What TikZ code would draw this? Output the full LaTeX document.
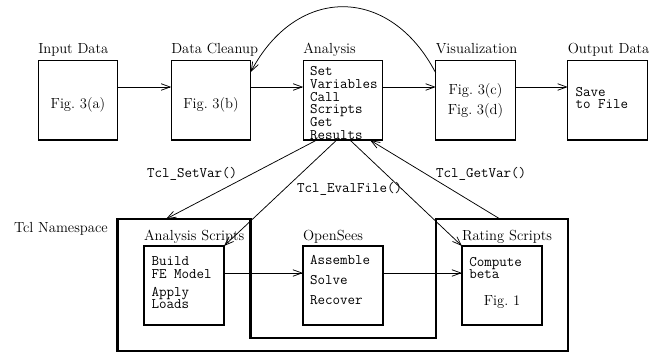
\documentclass[tikz,border=0pt]{standalone}
\usetikzlibrary{arrows.meta,calc}
\begin{document}
\begin{tikzpicture}[x=1pt,y=-1pt,
  every node/.style={font=\fontsize{14.6}{17}\selectfont, inner sep=0pt, outer sep=0pt},
  box/.style={draw, line width=1.2pt, minimum width=79.5pt, minimum height=79.5pt},
  ibox/.style={draw, line width=1.2pt, minimum width=80pt, minimum height=79pt},
  lbl/.style={anchor=base west},
  tt/.style={font=\fontsize{14.6}{12.8}\selectfont\ttfamily},
  ttb/.style={font=\fontsize{14.6}{12.5}\selectfont\ttfamily, anchor=north west, align=left},
  arr/.style={line width=0.75pt, -{Straight Barb[length=9pt,width=6.5pt]}},
  thickln/.style={line width=2.6pt, line join=miter}
]
\useasboundingbox (0,0) rectangle (665,353);

% top row
\node[box] (in) at (78,100.3) {};
\node[lbl] (inL) at ([yshift=7.4pt]in.north west) {Input Data};
\node[anchor=base] (inT) at (78,109) {Fig.~3(a)};

\node[box] (cl) at (211,100.3) {};
\node[lbl] (clL) at ([yshift=7.4pt]cl.north west) {Data Cleanup};
\node[anchor=base] (clT) at (211,109) {Fig.~3(b)};

\node[box] (ana) at (343,100.3) {};
\node[lbl] (anaL) at ([yshift=7.4pt]ana.north west) {Analysis};
\node[tt, anchor=north west, align=left] (anaT) at (310,66.5) {Set\\Variables\\Call\\Scripts\\Get\\Results};

\node[box] (vis) at (475.5,100.3) {};
\node[lbl] (visL) at ([yshift=7.4pt]vis.north west) {Visualization};
\node[anchor=base] (visT1) at (475.5,95) {Fig.~3(c)};
\node[anchor=base] (visT2) at (475.5,114) {Fig.~3(d)};

\node[box] (out) at (607.5,100.3) {};
\node[lbl] (outL) at ([yshift=7.4pt]out.north west) {Output Data};
\node[ttb] (outT) at (575.5,87) {Save\\to File};

% namespace outline
\coordinate (p1) at (117.5,219);
\coordinate (p2) at (250.5,219);
\coordinate (p3) at (250.5,338);
\coordinate (p4) at (436,338);
\coordinate (p5) at (436,219);
\coordinate (p6) at (568,219);
\coordinate (p7) at (568,351);
\coordinate (p8) at (117.5,351);
\draw[thickln] (p1) -- (p2) -- (p3) -- (p4) -- (p5) -- (p6) -- (p7) -- (p8) -- cycle;
\node[lbl] (nsL) at (14,232.5) {Tcl Namespace};

% inner boxes
\node[ibox] (as) at (184,285.5) {};
\node[lbl] (asL) at ([yshift=6pt]as.north west) {Analysis Scripts};
\node[ttb] (asT) at (151.5,257) {Build\\FE Model\\[5.5pt]Apply\\Loads};

\node[ibox] (os) at (343,285.5) {};
\node[lbl] (osL) at ([yshift=6pt]os.north west) {OpenSees};
\node[ttb, font=\fontsize{14.6}{20}\selectfont\ttfamily] (osT) at (310,255) {Assemble\\Solve\\Recover};

\node[ibox] (rs) at (502,285.5) {};
\node[lbl] (rsL) at ([yshift=6pt]rs.north west) {Rating Scripts};
\node[ttb] (rsT) at (469.3,257) {Compute\\beta};
\node[anchor=base] (rsF) at (502,305.5) {Fig.~1};

% arrows top row
\draw[arr] ([yshift=13.3pt]in.east) -- ([yshift=13.3pt]cl.west);
\draw[arr] ([yshift=13.3pt]cl.east) -- ([yshift=13.3pt]ana.west);
\draw[arr] ([yshift=13.3pt]ana.east) -- ([yshift=13.3pt]vis.west);
\draw[arr] ([yshift=13.3pt]vis.east) -- ([yshift=13.3pt]out.west);
\draw[arr] ([yshift=27.3pt]vis.west) .. controls (390,-15) and (297,-15) .. ([yshift=28.3pt]cl.east);

% arrows bottom row
\draw[arr] ([yshift=12.5pt]as.east) -- ([yshift=12.5pt]os.west);
\draw[arr] ([yshift=12.5pt]os.east) -- ([yshift=12.5pt]rs.west);

% Tcl calls
\coordinate (setE) at (166,219);
\coordinate (getS) at (500,219);
\draw[arr] ([xshift=-26.3pt]ana.south) -- (setE);
\draw[arr] ([xshift=-6.3pt]ana.south) -- (as.north east);
\draw[arr] ([xshift=7pt]ana.south) -- (rs.north west);
\draw[arr] (getS) -- ([xshift=27pt]ana.south);

\node[tt, anchor=base west] (lSet) at (147,178) {Tcl\_SetVar()};
\node[tt, anchor=base west] (lEval) at (297,192.7) {Tcl\_EvalFile()};
\node[tt, anchor=base west] (lGet) at (436,178) {Tcl\_GetVar()};
\end{tikzpicture}
\end{document}
